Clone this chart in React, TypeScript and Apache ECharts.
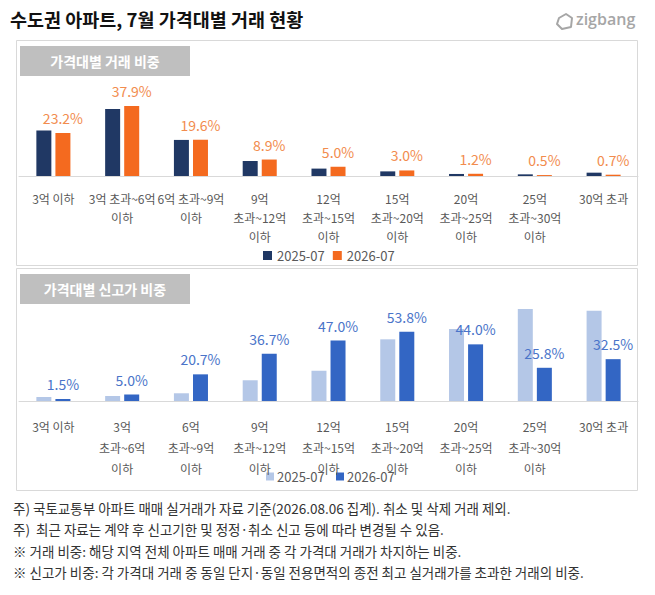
import React, { useEffect, useRef } from "react";
import * as echarts from "echarts";

const TITLE = "수도권 아파트, 7월 가격대별 거래 현황";
const PANEL1_TITLE = "가격대별 거래 비중";
const PANEL2_TITLE = "가격대별 신고가 비중";
const SERIES_NAMES = ["2025-07", "2026-07"];

const TOP_LABELS = [
  "3억 이하",
  "3억 초과~6억\n이하",
  "6억 초과~9억\n이하",
  "9억\n초과~12억\n이하",
  "12억\n초과~15억\n이하",
  "15억\n초과~20억\n이하",
  "20억\n초과~25억\n이하",
  "25억\n초과~30억\n이하",
  "30억 초과",
];
const BOTTOM_LABELS = [
  "3억 이하",
  "3억\n초과~6억\n이하",
  "6억\n초과~9억\n이하",
  "9억\n초과~12억\n이하",
  "12억\n초과~15억\n이하",
  "15억\n초과~20억\n이하",
  "20억\n초과~25억\n이하",
  "25억\n초과~30억\n이하",
  "30억 초과",
];

const SHARE_2025 = [24.6, 36.2, 19.5, 8.1, 4.0, 2.5, 1.1, 0.9, 1.8];
const SHARE_2026 = [23.2, 37.9, 19.6, 8.9, 5.0, 3.0, 1.2, 0.5, 0.7];

const HIGH_2025 = [3.1, 3.9, 6.0, 16.1, 23.5, 47.9, 55.9, 71.4, 70.1];
const HIGH_2026 = [1.5, 5.0, 20.7, 36.7, 47.0, 53.8, 44.0, 25.8, 32.5];

const NOTES = [
  "주) 국토교통부 아파트 매매 실거래가 자료 기준(2026.08.06 집계). 취소 및 삭제 거래 제외.",
  "주)  최근 자료는 계약 후 신고기한 및 정정·취소 신고 등에 따라 변경될 수 있음.",
  "※ 거래 비중: 해당 지역 전체 아파트 매매 거래 중 각 가격대 거래가 차지하는 비중.",
  "※ 신고가 비중: 각 가격대 거래 중 동일 단지·동일 전용면적의 종전 최고 실거래가를 초과한 거래의 비중.",
];

const FONT = "'Noto Sans CJK KR', 'Noto Sans', sans-serif";

export default function App() {
  const ref = useRef<HTMLDivElement>(null);

  useEffect(() => {
    document.body.style.margin = "0";
    if (!ref.current) return;
    const chart = echarts.init(ref.current, undefined, { renderer: "svg" });

    const fmt = (p: any) => Number(p.value).toFixed(1) + "%";

    const axisLabelBase = {
      interval: 0,
      color: "#595959",
      fontSize: 12,
      fontFamily: FONT,
    };

    const option: any = {
      animation: false,
      textStyle: { fontFamily: FONT },
      grid: [
        { left: 19, right: 17, top: 102, bottom: 595 - 176 },
        { left: 19, right: 17, top: 298, bottom: 595 - 401 },
      ],
      xAxis: [
        {
          type: "category",
          gridIndex: 0,
          data: TOP_LABELS,
          axisTick: { show: false },
          axisLine: { lineStyle: { color: "#D9D9D9", width: 1 } },
          axisLabel: { ...axisLabelBase, margin: 13, lineHeight: 19 },
        },
        {
          type: "category",
          gridIndex: 1,
          data: BOTTOM_LABELS,
          axisTick: { show: false },
          axisLine: { lineStyle: { color: "#D9D9D9", width: 1 } },
          axisLabel: { ...axisLabelBase, margin: 15, lineHeight: 21 },
        },
      ],
      yAxis: [
        { type: "value", gridIndex: 0, min: 0, max: 40, show: false },
        { type: "value", gridIndex: 1, min: 0, max: 80, show: false },
      ],
      legend: [
        {
          data: [
            { name: SERIES_NAMES[0], itemStyle: { color: "#203864" } },
            { name: SERIES_NAMES[1], itemStyle: { color: "#F46A1F" } },
          ],
          left: 258,
          top: 244,
          itemWidth: 9,
          itemHeight: 9,
          itemGap: 8,
          icon: "rect",
          textStyle: { color: "#595959", fontSize: 13, fontFamily: FONT },
          selectedMode: false,
        },
      ],
      series: [
        {
          name: SERIES_NAMES[0],
          type: "bar",
          xAxisIndex: 0,
          yAxisIndex: 0,
          data: SHARE_2025,
          barWidth: 15,
          barGap: "27%",
          itemStyle: { color: "#203864" },
        },
        {
          name: SERIES_NAMES[1],
          type: "bar",
          xAxisIndex: 0,
          yAxisIndex: 0,
          data: SHARE_2026,
          barWidth: 15,
          barGap: "27%",
          itemStyle: { color: "#F46A1F" },
          label: {
            show: true,
            position: "top",
            distance: 8,
            formatter: fmt,
            color: "#F28C4E",
            fontSize: 14,
            fontFamily: FONT,
          },
        },
        {
          name: "s3",
          type: "bar",
          xAxisIndex: 1,
          yAxisIndex: 1,
          data: HIGH_2025,
          barWidth: 15,
          barGap: "27%",
          itemStyle: { color: "#B4C7E7" },
        },
        {
          name: "s4",
          type: "bar",
          xAxisIndex: 1,
          yAxisIndex: 1,
          data: HIGH_2026,
          barWidth: 15,
          barGap: "27%",
          itemStyle: { color: "#3366C4" },
          label: {
            show: true,
            position: "top",
            distance: 8,
            formatter: fmt,
            color: "#4A74C9",
            fontSize: 14,
            fontFamily: FONT,
          },
        },
      ],
      graphic: [
        {
          type: "text",
          left: 10,
          top: 10,
          style: {
            text: TITLE,
            fontSize: 18.5,
            fontWeight: "bold",
            fill: "#111111",
            fontFamily: FONT,
          },
        },
        {
          type: "polygon",
          shape: {
            points: [
              [559, 18],
              [566, 14],
              [572, 18],
              [571, 27],
              [562, 29],
              [557, 24],
            ],
          },
          style: { fill: "none", stroke: "#A6A6A6", lineWidth: 2, lineJoin: "round" },
        },
        {
          type: "text",
          left: 576,
          top: 11,
          style: {
            text: "zigbang",
            fontSize: 16,
            fill: "#A6A6A6",
            fontFamily: "'Open Sans', sans-serif",
            fontWeight: 600,
          },
        },
        {
          type: "rect",
          shape: { x: 16.5, y: 40.5, width: 621, height: 225 },
          style: { fill: "none", stroke: "#D9D9D9", lineWidth: 1 },
        },
        {
          type: "rect",
          shape: { x: 16.5, y: 268.5, width: 621, height: 222 },
          style: { fill: "none", stroke: "#D9D9D9", lineWidth: 1 },
        },
        {
          type: "rect",
          shape: { x: 20, y: 46, width: 170, height: 30 },
          style: { fill: "#BFBFBF" },
        },
        {
          type: "text",
          x: 105,
          y: 61,
          style: {
            text: PANEL1_TITLE,
            fontSize: 14,
            fontWeight: "bold",
            fill: "#FFFFFF",
            align: "center",
            verticalAlign: "middle",
            fontFamily: FONT,
          },
        },
        {
          type: "rect",
          shape: { x: 20, y: 274, width: 170, height: 30 },
          style: { fill: "#BFBFBF" },
        },
        {
          type: "text",
          x: 105,
          y: 289,
          style: {
            text: PANEL2_TITLE,
            fontSize: 14,
            fontWeight: "bold",
            fill: "#FFFFFF",
            align: "center",
            verticalAlign: "middle",
            fontFamily: FONT,
          },
        },
        ...NOTES.map((t, i) => ({
          type: "text",
          x: 13,
          y: 508 + i * 21.3,
          style: {
            text: t,
            fontSize: 13.5,
            fill: "#333333",
            verticalAlign: "middle",
            fontFamily: FONT,
          },
        })),
        {
          type: "group",
          left: 266,
          top: 470,
          children: [
            { type: "rect", shape: { x: 0, y: 4, width: 8, height: 8 }, style: { fill: "#B4C7E7" } },
            {
              type: "text",
              x: 11,
              y: 8,
              style: { text: SERIES_NAMES[0], fontSize: 13, fill: "#595959", verticalAlign: "middle", fontFamily: FONT },
            },
            { type: "rect", shape: { x: 70, y: 4, width: 8, height: 8 }, style: { fill: "#3366C4" } },
            {
              type: "text",
              x: 81,
              y: 8,
              style: { text: SERIES_NAMES[1], fontSize: 13, fill: "#595959", verticalAlign: "middle", fontFamily: FONT },
            },
          ],
        },
      ],
    };

    chart.setOption(option);
    return () => chart.dispose();
  }, []);

  return <div ref={ref} style={{ width: 655, height: 595 }} />;
}
